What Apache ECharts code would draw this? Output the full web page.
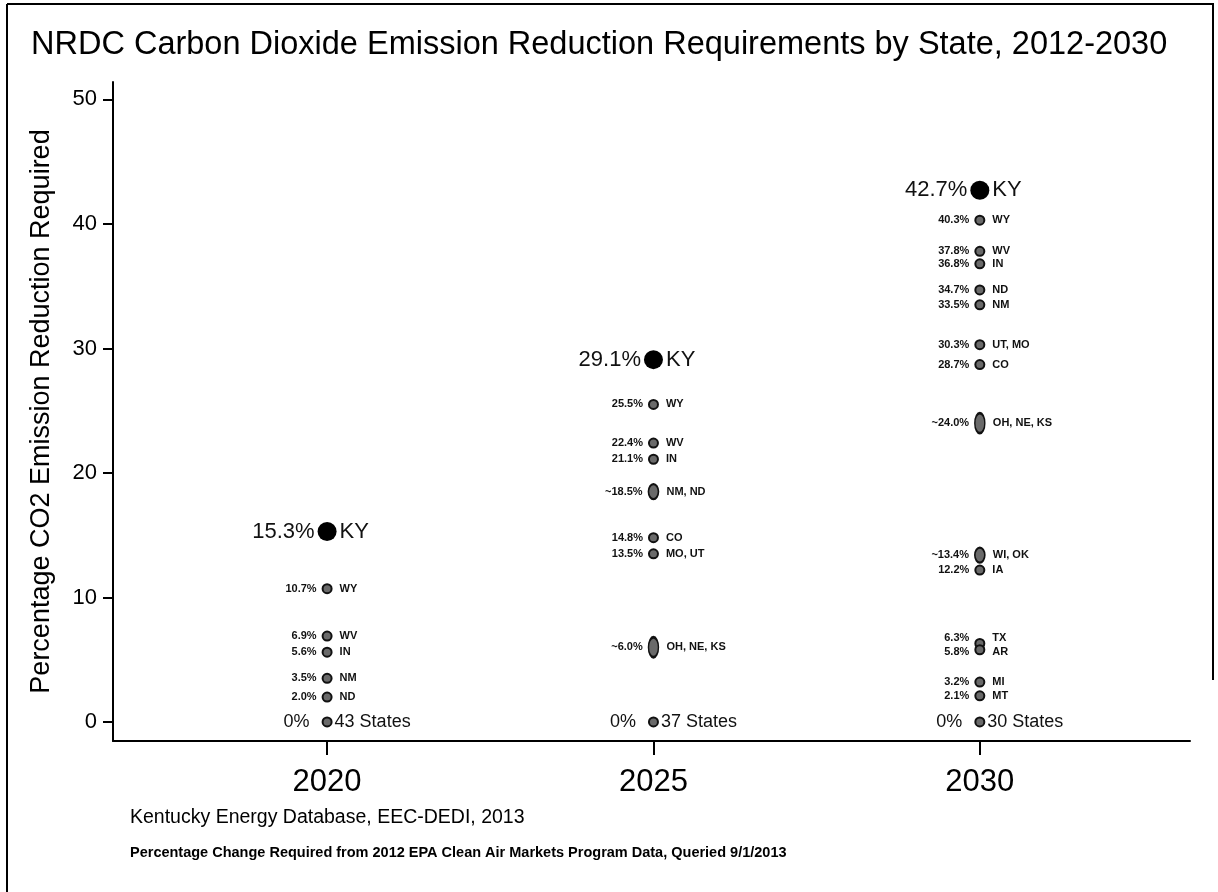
<!DOCTYPE html>
<html>
<head>
<meta charset="utf-8">
<title>NRDC CO2 Reduction by State</title>
<script src="https://cdn.jsdelivr.net/npm/echarts@6/dist/echarts.min.js"></script>
<style>
    html, body { margin: 0; padding: 0; background: #fff; }
    #chart { width: 1218px; height: 892px; }
</style>
</head>
<body>
<div id="chart"></div>
<script>
// year columns and the Kentucky points
const years = [2020, 2025, 2030];
const kyValues = [15.3, 29.1, 42.7];
const kyLabels = ['15.3%', '29.1%', '42.7%'];
const zeroLabels = ['43 States', '37 States', '30 States'];

const val2020 = [10.7, 6.9, 5.6, 3.5, 2.0];
const pct2020 = ['10.7%', '6.9%', '5.6%', '3.5%', '2.0%'];
const st2020 = ['WY', 'WV', 'IN', 'NM', 'ND'];

const val2025 = [25.5, 22.4, 21.1, 18.5, 14.8, 13.5, 6.0];
const pct2025 = ['25.5%', '22.4%', '21.1%', '~18.5%', '14.8%', '13.5%', '~6.0%'];
const st2025 = ['WY', 'WV', 'IN', 'NM, ND', 'CO', 'MO, UT', 'OH, NE, KS'];

const val2030 = [40.3, 37.8, 36.8, 34.7, 33.5, 30.3, 28.7, 24.0, 13.4, 12.2, 6.3, 5.8, 3.2, 2.1];
const pct2030 = ['40.3%', '37.8%', '36.8%', '34.7%', '33.5%', '30.3%', '28.7%', '~24.0%', '~13.4%', '12.2%', '6.3%', '5.8%', '3.2%', '2.1%'];
const st2030 = ['WY', 'WV', 'IN', 'ND', 'NM', 'UT, MO', 'CO', 'OH, NE, KS', 'WI, OK', 'IA', 'TX', 'AR', 'MI', 'MT'];

const yTicks = [0, 10, 20, 30, 40, 50];

const FONT = '"Liberation Sans", Arial, sans-serif';
// labels squeezed together on the TX / AR pair
const labelNudge = {TX: -6, AR: 2};

const chart = echarts.init(document.getElementById('chart'));

const columns = [
    [val2020, pct2020, st2020],
    [val2025, pct2025, st2025],
    [val2030, pct2030, st2030]
];

let leftData = [];
let rightData = [];

function markerSize(pct, states) {
    const n = states.split(',').length;
    if (pct.charAt(0) === '~' && n > 1) {
        return [10, 10 + 5 * (n - 1)];
    }
    return 9;
}

years.forEach(function (yr, i) {
    const vals = columns[i][0], pcts = columns[i][1], sts = columns[i][2];
    vals.forEach(function (v, j) {
        const size = markerSize(pcts[j], sts[j]);
        const dy = labelNudge[sts[j]] || 0;
        leftData.push({
            value: [yr, v],
            symbolSize: size,
            label: {formatter: pcts[j], offset: [0, dy]}
        });
        rightData.push({
            value: [yr, v],
            symbolSize: size,
            label: {formatter: sts[j], offset: [0, dy]}
        });
    });
    // Kentucky
    leftData.push({
        value: [yr, kyValues[i]],
        symbolSize: 19,
        itemStyle: {color: '#000', borderWidth: 0},
        label: {formatter: kyLabels[i], fontSize: 22, fontWeight: 'normal', distance: 3}
    });
    rightData.push({
        value: [yr, kyValues[i]],
        symbolSize: 19,
        label: {formatter: 'KY', fontSize: 22, fontWeight: 'normal', distance: 3}
    });
    // the 0% group
    leftData.push({
        value: [yr, 0],
        symbolSize: 9,
        label: {formatter: '0%', fontSize: 18, fontWeight: 'normal', distance: 12}
    });
    rightData.push({
        value: [yr, 0],
        symbolSize: 9,
        label: {formatter: zeroLabels[i], fontSize: 18, fontWeight: 'normal', distance: 3}
    });
});

chart.setOption({
    backgroundColor: '#fff',
    animation: false,
    title: {
        text: 'NRDC Carbon Dioxide Emission Reduction Requirements by State, 2012-2030',
        left: 26,
        top: 24,
        textStyle: {
            fontFamily: FONT,
            fontSize: 32.5,
            fontWeight: 'normal',
            color: '#000'
        }
    },
    grid: {
        left: 113,
        right: 28,
        top: 82,
        bottom: 151
    },
    xAxis: {
        type: 'value',
        min: 2016.72,
        max: 2033.22,
        splitLine: {show: false},
        axisLine: {onZero: false, lineStyle: {color: '#000', width: 2}},
        axisTick: {
            customValues: years,
            length: 14,
            lineStyle: {color: '#000', width: 2}
        },
        axisLabel: {
            customValues: years,
            formatter: function (v) { return String(v); },
            margin: 26,
            fontFamily: FONT,
            fontSize: 31,
            color: '#000'
        }
    },
    yAxis: {
        type: 'value',
        min: -1.53,
        max: 51.4,
        name: 'Percentage CO2 Emission Reduction Required',
        nameLocation: 'middle',
        nameGap: 58,
        nameTextStyle: {fontFamily: FONT, fontSize: 27, color: '#000'},
        splitLine: {show: false},
        axisLine: {show: true, onZero: false, lineStyle: {color: '#000', width: 2}},
        axisTick: {
            show: true,
            customValues: yTicks,
            length: 10,
            lineStyle: {color: '#000', width: 2}
        },
        axisLabel: {
            customValues: yTicks,
            margin: 16,
            fontFamily: FONT,
            fontSize: 22,
            color: '#000'
        }
    },
    series: [
        {
            name: 'pct',
            type: 'scatter',
            symbol: 'circle',
            data: leftData,
            itemStyle: {color: '#6a6a6a', borderColor: '#111', borderWidth: 2, opacity: 1},
            label: {
                show: true,
                position: 'left',
                distance: 5,
                fontFamily: FONT,
                fontSize: 11,
                fontWeight: 'bold',
                color: '#111'
            },
            z: 3
        },
        {
            name: 'states',
            type: 'scatter',
            symbol: 'circle',
            data: rightData,
            itemStyle: {color: 'rgba(0,0,0,0)', borderWidth: 0, opacity: 1},
            label: {
                show: true,
                position: 'right',
                distance: 8,
                fontFamily: FONT,
                fontSize: 11,
                fontWeight: 'bold',
                color: '#111'
            },
            z: 2
        }
    ],
    graphic: [
        // frame
        {type: 'line', shape: {x1: 7, y1: 4, x2: 7, y2: 892}, style: {stroke: '#000', lineWidth: 2}},
        {type: 'line', shape: {x1: 7, y1: 4, x2: 1214, y2: 4}, style: {stroke: '#000', lineWidth: 2}},
        {type: 'line', shape: {x1: 1213, y1: 4, x2: 1213, y2: 680}, style: {stroke: '#000', lineWidth: 2}},
        {
            type: 'text', left: 130, top: 808,
            style: {text: 'Kentucky Energy Database, EEC-DEDI, 2013', fontFamily: FONT, fontSize: 19.5, fill: '#000'}
        },
        {
            type: 'text', left: 130, top: 845,
            style: {
                text: 'Percentage Change Required from 2012 EPA Clean Air Markets Program Data, Queried 9/1/2013',
                fontFamily: FONT, fontSize: 14.5, fontWeight: 'bold', fill: '#000'
            }
        }
    ]
});
</script>
</body>
</html>
